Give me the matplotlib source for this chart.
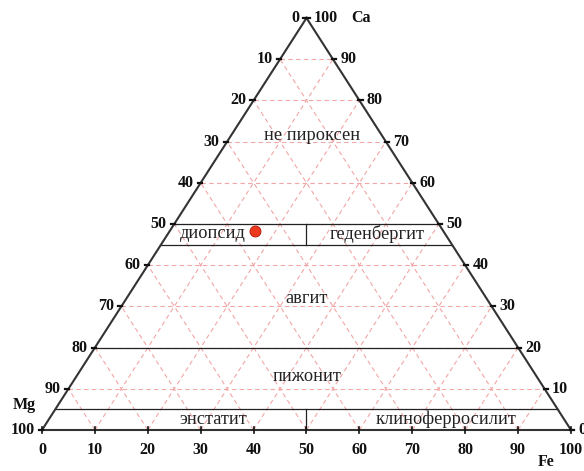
import matplotlib
matplotlib.use('Agg')
import matplotlib.pyplot as plt
import numpy as np

# sample composition (Ca, Mg, Fe, %)
sample_ca = [48.3]
sample_mg = [35.6]
sample_fe = [16.1]

grid_values = [10, 20, 30, 40, 50, 60, 70, 80, 90]
tick_values = [0, 10, 20, 30, 40, 50, 60, 70, 80, 90, 100]

# classification boundaries (Ca, %)
band_top = 50
band_bottom = 45
augite_bottom = 20
pigeonite_bottom = 5

# field names: (Ca, Mg, Fe, label)
fields = [
    (71.6, 13.1, 15.3, 'не пироксен'),
    (47.6, 44.0, 8.4, 'диопсид'),
    (47.6, 12.8, 39.6, 'геденбергит'),
    (32, 34, 34, 'авгит'),
    (12.9, 43.5, 43.6, 'пижонит'),
    (2.6, 66.3, 31.1, 'энстатит'),
    (2.6, 22.4, 75.0, 'клиноферросилит'),
]

H = 412 / 529  # triangle height relative to base


def to_xy(ca, fe):
    """ternary (Ca, Fe in %) -> plane coords, Mg at origin"""
    ca = np.asarray(ca, dtype=float) / 100
    fe = np.asarray(fe, dtype=float) / 100
    return fe + ca / 2, ca * H


def ca_line(ca):
    # horizontal line across the triangle at given Ca
    x0, y0 = to_xy(ca, 0)
    x1, y1 = to_xy(ca, 100 - ca)
    return [x0, x1], [y0, y1]


fig = plt.figure(figsize=(5.84, 4.71), dpi=100)
ax = fig.add_axes([0, 0, 1, 1])
ax.set_xlim(-42 / 529, 542 / 529)
ax.set_ylim(-41 / 529, 430 / 529)
ax.axis('off')

serif = ['Liberation Serif', 'DejaVu Serif']
grid_kw = dict(color='#f2a6a6', lw=0.8, ls=(0, (4, 3)), zorder=1)

# pink dashed grid in three directions
for v in grid_values:
    xs, ys = ca_line(v)
    ax.plot(xs, ys, **grid_kw)
    xs, ys = to_xy([0, 100 - v], [v, v])
    ax.plot(xs, ys, **grid_kw)
    xs, ys = to_xy([0, 100 - v], [100 - v, 0])
    ax.plot(xs, ys, **grid_kw)

# triangle outline
tx, ty = to_xy([0, 0, 100, 0], [0, 100, 0, 0])
ax.plot(tx, ty, color='#333333', lw=1.5, zorder=3, solid_joinstyle='miter')

# classification lines
line_kw = dict(color='#222222', lw=0.9, zorder=2)
for v in [band_top, band_bottom, augite_bottom, pigeonite_bottom]:
    xs, ys = ca_line(v)
    ax.plot(xs, ys, **line_kw)
xm = to_xy(0, 50)[0]
ax.plot([xm, xm], to_xy([band_bottom, band_top], [0, 0])[1], **line_kw)
ax.plot([xm, xm], to_xy([0, pigeonite_bottom], [50, 50])[1], **line_kw)

# ticks and tick labels
tick_font = dict(family=serif, fontsize=11.5, fontweight='bold', color='#111111')
d = 0.006
for v in tick_values:
    # bottom edge (Fe)
    x, y = to_xy(0, v)
    ax.plot([x, x], [y - d, y + d], color='#111111', lw=1.2, zorder=4)
    ax.text(x, y - 0.022, str(v), ha='center', va='top', **tick_font)
    # left edge (Mg from top)
    x, y = to_xy(100 - v, 0)
    ax.plot([x - d, x + d * 0.3], [y, y], color='#111111', lw=1.6, zorder=4)
    ax.text(x - 0.014, y, str(v), ha='right', va='center', **tick_font)
    # right edge (Ca)
    x, y = to_xy(v, 100 - v)
    ax.plot([x - d * 0.3, x + d], [y, y], color='#111111', lw=1.6, zorder=4)
    ax.text(x + 0.014, y, str(v), ha='left', va='center', **tick_font)

# vertex names
ax.text(0.603, 0.779, 'Ca', ha='center', va='center', **tick_font)
ax.text(-0.034, 0.047, 'Mg', ha='center', va='center', **tick_font)
ax.text(0.953, -0.060, 'Fe', ha='center', va='center', **tick_font)

# field names
for ca, mg, fe, name in fields:
    x, y = to_xy(ca, fe)
    ax.text(x, y, name, ha='center', va='center', family=serif,
            fontsize=13.2, color='#222222', zorder=5)

# sample point
sx, sy = to_xy(sample_ca, sample_fe)
ax.scatter(sx, sy, s=60, color='#ec3a1c', edgecolor='#c02010', lw=0.8, zorder=6)

plt.savefig('out.png', dpi=100)
